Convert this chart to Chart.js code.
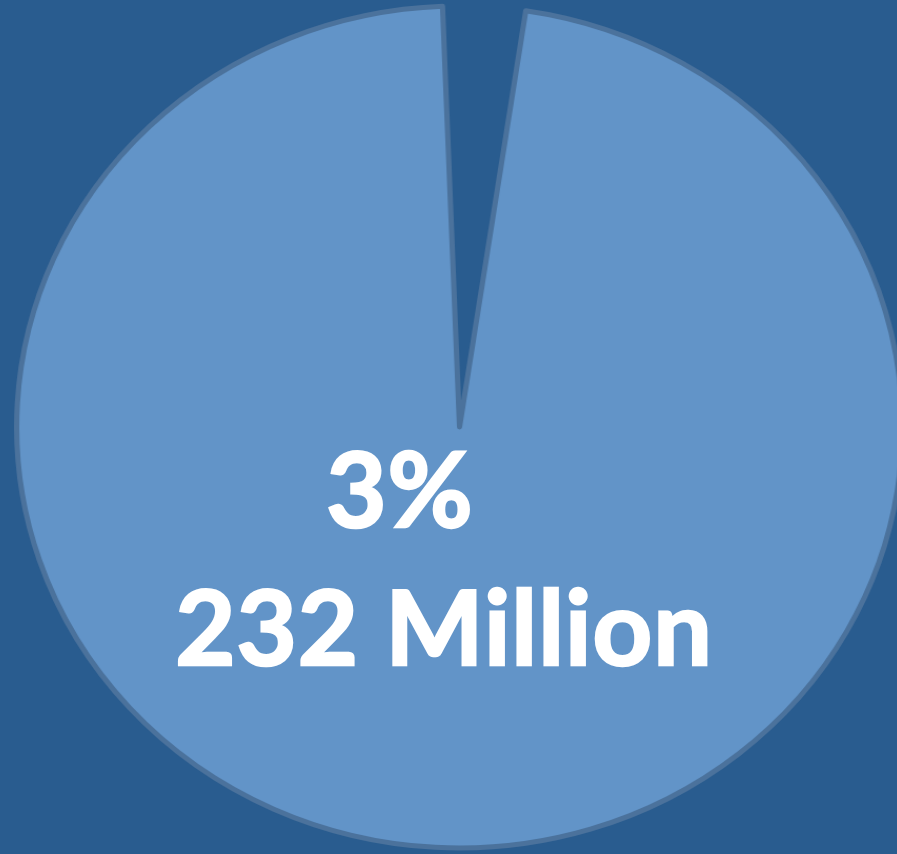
<!DOCTYPE html>
<html>
<head>
<meta charset="utf-8">
<script src="https://cdn.jsdelivr.net/npm/chart.js"></script>
<style>
html, body { margin: 0; padding: 0; width: 897px; height: 854px; overflow: hidden; background: #295c8f; }
#wrap { position: absolute; left: 0; top: 0; width: 897px; height: 854px;
        transform-origin: 459px 427px; transform: scaleX(1.052); }
.lbl { position: absolute; color: #fff; font-family: Lato, sans-serif; font-weight: bold;
       font-size: 104px; line-height: 104px; white-space: nowrap; letter-spacing: 1px;
       -webkit-text-stroke: 2.5px #fff; transform: translateX(-50%); }
</style>
</head>
<body>
<div id="wrap"><canvas id="pasta" width="897" height="854"></canvas></div>
<div class="lbl" id="pct" style="left:400px; top:435px;"></div>
<div class="lbl" id="cnt" style="left:444px; top:573px;"></div>
<script>
// slices: the 3% share is left empty, the rest is the big blue slice
const labels = ['232 Million', 'Rest'];
const shares = [3, 97];
const pctText = '3%';
const countText = '232 Million';

document.getElementById('pct').textContent = pctText;
document.getElementById('cnt').textContent = countText;

const ctx = document.getElementById('pasta').getContext('2d');
new Chart(ctx, {
    type: 'pie',
    data: {
        labels: labels,
        datasets: [{
            data: shares,
            backgroundColor: ['rgba(0,0,0,0)', '#6294c8'],
            borderColor: ['rgba(0,0,0,0)', '#4b729c'],
            borderWidth: [0, 5],
            borderJoinStyle: 'round'
        }]
    },
    options: {
        responsive: false,
        animation: false,
        rotation: -2.2,
        radius: 421,
        layout: { padding: { left: 22, right: 0, top: 0, bottom: 0 } },
        plugins: { legend: { display: false }, tooltip: { enabled: false } }
    }
});
</script>
</body>
</html>
